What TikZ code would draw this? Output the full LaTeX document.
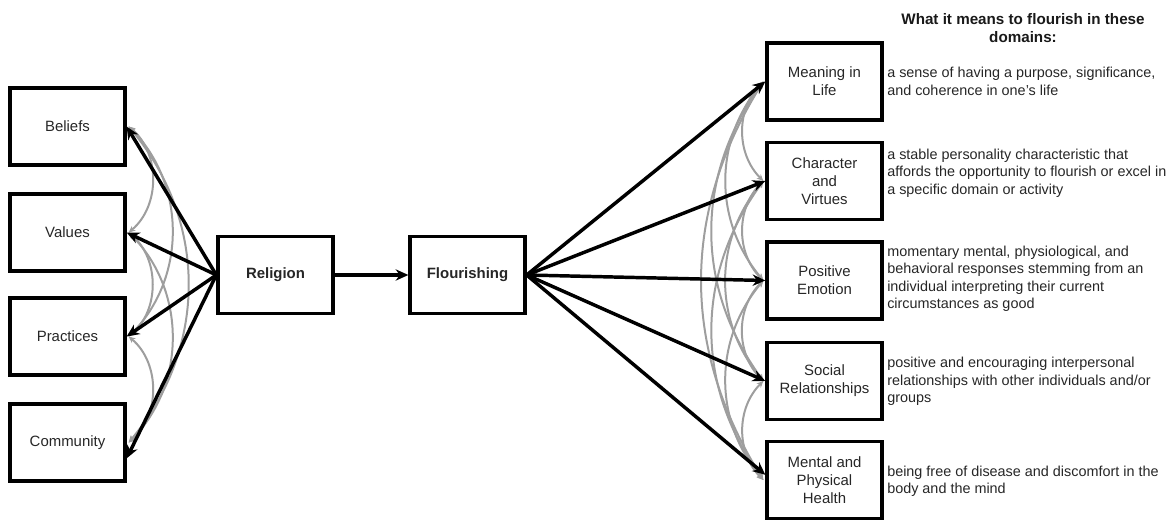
\documentclass[tikz,border=0pt]{standalone}
\usepackage{fontspec}
\setmainfont{Liberation Sans}
\usetikzlibrary{arrows.meta,calc}
\begin{document}
\begin{tikzpicture}[x=0.75pt,y=-0.75pt,
  box/.style={draw=black, line width=2.5pt, minimum width=86.25pt, minimum height=57.75pt,
    inner sep=0pt, align=center, font=\fontsize{11.2}{13.6}\selectfont, text=black!85},
  hub/.style={box, font=\fontsize{11.2}{13.6}\selectfont\bfseries},
  causal/.style={draw=black, line width=2.6pt, -{Stealth[length=9.5pt,width=8.5pt]}},
  cov/.style={draw=black!38, line width=1.5pt,
    {Stealth[length=5pt,width=4.5pt]}-{Stealth[length=5pt,width=4.5pt]}},
  desc/.style={anchor=west, align=left, inner sep=0pt,
    font=\fontsize{10.8}{13.1}\selectfont, text=black!85},
  title/.style={align=center, inner sep=0pt,
    font=\fontsize{11.4}{13.8}\selectfont\bfseries, text=black!90}]
\useasboundingbox (0,0) rectangle (1173,520);

% religion dimensions
\node[box] (beliefs)   at (67.5,126.5) {Beliefs};
\node[box] (values)    at (67.5,232.5) {Values};
\node[box] (practices) at (67.5,336.5) {Practices};
\node[box] (community) at (67.5,442.5) {Community};

% central constructs
\node[hub] (religion) at (275.5,275) {Religion};
\node[hub] (flourish) at (467.5,275) {Flourishing};

% flourishing domains
\node[box] (meaning)   at (824.5,81.5) {Meaning in\\Life};
\node[box] (character) at (824.5,181)  {Character\\and\\Virtues};
\node[box] (emotion)   at (824.5,280.5){Positive\\Emotion};
\node[box] (social)    at (824.5,381)  {Social\\Relationships};
\node[box] (health)    at (824.5,480)  {Mental and\\Physical\\Health};

% correlations among the religion dimensions
\foreach \a/\b/\ang in {beliefs/values/50, values/practices/50, practices/community/50,
                        beliefs/practices/45, values/community/45, beliefs/community/40}
  \draw[cov] ([xshift=1.5pt]\a.east) to[bend left=\ang] ([xshift=1.5pt]\b.east);

% correlations among the flourishing domains
\foreach \a/\b/\ang in {meaning/character/45, character/emotion/45, emotion/social/45,
                        social/health/45, meaning/emotion/40, character/social/40,
                        emotion/health/40, meaning/social/36, character/health/36,
                        meaning/health/32}
  \draw[cov] ([xshift=-1.5pt]\a.west) to[bend right=\ang] ([xshift=-1.5pt]\b.west);

% paths
\draw[causal] (religion.west) -- (beliefs.east);
\draw[causal] (religion.west) -- (values.east);
\draw[causal] (religion.west) -- (practices.east);
\draw[causal] (religion.west) -- (community.345);
\draw[causal] (religion.east) -- (flourish.west);
\draw[causal] (flourish.east) -- (meaning.west);
\draw[causal] (flourish.east) -- (character.west);
\draw[causal] (flourish.east) -- (emotion.west);
\draw[causal] (flourish.east) -- (social.west);
\draw[causal] (flourish.east) -- (health.175);

% domain descriptions
\node[title] (head) at (1023,28) {What it means to flourish in these\\domains:};
\node[desc] (dmeaning) at (887,81.5)
  {a sense of having a purpose, significance,\\and coherence in one's life};
\node[desc] (dcharacter) at (887,173)
  {a stable personality characteristic that\\affords the opportunity to flourish or excel in\\a specific domain or activity};
\node[desc] (demotion) at (887,279)
  {momentary mental, physiological, and\\behavioral responses stemming from an\\individual interpreting their current\\circumstances as good};
\node[desc] (dsocial) at (887,381.5)
  {positive and encouraging interpersonal\\relationships with other individuals and/or\\groups};
\node[desc] (dhealth) at (887,481.5)
  {being free of disease and discomfort in the\\body and the mind};
\end{tikzpicture}
\end{document}
